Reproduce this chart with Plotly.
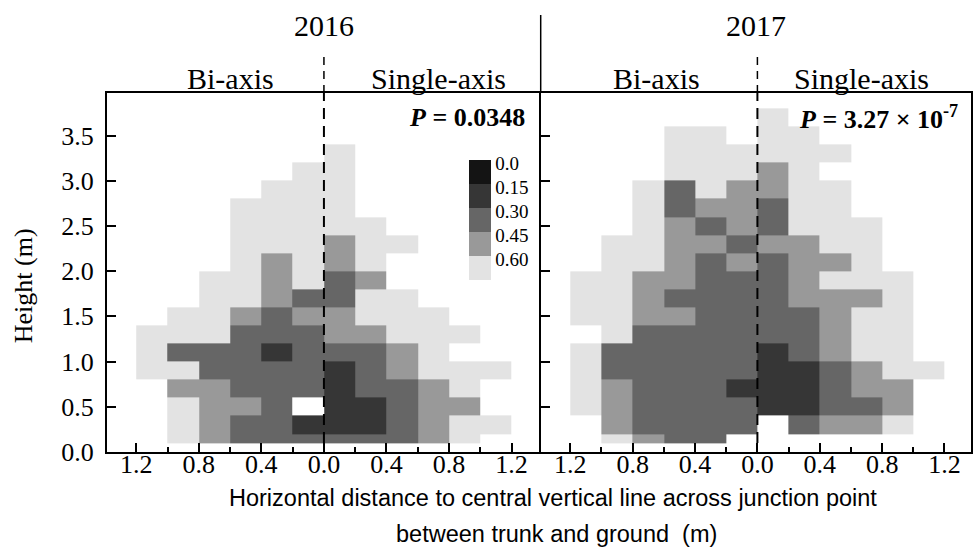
import math
import plotly.graph_objects as go

# ---------------- data ----------------
years = ["2016", "2017"]
side_labels = ["Bi-axis", "Single-axis"]
p_texts = ["<b><i>P</i> = 0.0348</b>", "<b><i>P</i> = 3.27 × 10<sup>-7</sup></b>"]

# bin edges (m)
x_edges = [-1.2, -1.0, -0.8, -0.6, -0.4, -0.2, 0.0, 0.2, 0.4, 0.6, 0.8, 1.0, 1.2]
y_edges = [0.1, 0.2, 0.4, 0.6, 0.8, 1.0, 1.2, 1.4, 1.6, 1.8, 2.0,
           2.2, 2.4, 2.6, 2.8, 3.0, 3.2, 3.4, 3.6, 3.8]

# class levels shown in the key
levels = [0.0, 0.15, 0.30, 0.45, 0.60]
level_labels = ["0.0", "0.15", "0.30", "0.45", "0.60"]
level_colors = ["#141414", "#363636", "#666666", "#999999", "#e3e3e3"]
codes = {"B": 0.0, "V": 0.15, "D": 0.30, "M": 0.45, "L": 0.60}

# grids, rows listed from top (3.6-3.8 m) down to bottom (0.1-0.2 m)
grid_2016 = [
    "............",
    "............",
    "......L.....",
    ".....LL.....",
    "....LLL.....",
    "...LLLL.....",
    "...LLLLL....",
    "...LLLMLL...",
    "...LMLML....",
    "..LLMLDM....",
    "..LLMDDLL...",
    ".LLMDMMLLL..",
    "LLLDDDMMLLL.",
    "LDDDVDDDML..",
    "LLDDDDVDMLLL",
    ".MMDDDVDDML.",
    ".LMMD.VVDMM.",
    ".LMDDVVVDMLL",
    ".LMDDDDDDML.",
]
grid_2017 = [
    "......L.....",
    "...LL.LL....",
    "...LLLLLL...",
    "...LLLML....",
    "..LDLMMLL...",
    "..LDMMDLL...",
    "..LMDMDLLL..",
    ".LLMMDMMLL..",
    ".LLMDMDMML..",
    "LLMMDDDMLLL.",
    "LLMDDDDMMML.",
    "LLMMDDDDMLL.",
    ".LDDDDDDMLL.",
    "LDDDDDVDMLL.",
    "LDDDDDVVDMLL",
    "LMDDDVVVDMM.",
    "LMDDDDVVDDM.",
    ".MDDDD.DMML.",
    ".LMDD.......",
]
grids = [grid_2016, grid_2017]

x_tick_vals = [-1.2, -0.8, -0.4, 0.0, 0.4, 0.8, 1.2]
x_tick_text = ["1.2", "0.8", "0.4", "0.0", "0.4", "0.8", "1.2"]
y_tick_vals = [0.0, 0.5, 1.0, 1.5, 2.0, 2.5, 3.0, 3.5]
y_tick_text = ["0.0", "0.5", "1.0", "1.5", "2.0", "2.5", "3.0", "3.5"]

x_title_1 = "Horizontal distance to central vertical line across junction point"
x_title_2 = "between trunk and ground  (m)"
y_title = "Height (m)"

# ---------------- figure ----------------
W, H = 976, 549
ML, MR, MT, MB = 107, 3, 93, 97
PW, PH = W - ML - MR, H - MT - MB
split = (541.7 - ML) / PW


def px_x(p):
    return (p - ML) / PW


def px_y(p):
    return (H - MB - p) / PH


nlev = len(levels)


def to_class(v):
    # class index: 0 = lightest (0.60) ... 4 = darkest (0.0)
    return round((levels[-1] - v) / 0.15)


colorscale = []
for k in range(nlev):
    col = level_colors[nlev - 1 - k]
    colorscale.append([k / nlev, col])
    colorscale.append([(k + 1) / nlev, col])

fig = go.Figure()
for i, g in enumerate(grids):
    z = []
    for row in reversed(g):
        z.append([to_class(codes[c]) if c in codes else math.nan for c in row])
    sfx = "" if i == 0 else str(i + 1)
    fig.add_trace(go.Heatmap(
        x=x_edges, y=y_edges, z=z, coloraxis="coloraxis",
        xaxis="x" + sfx, yaxis="y" + sfx, hoverinfo="skip",
        xgap=0, ygap=0,
    ))

serif = "Liberation Serif"
sans = "Liberation Sans"

axis_common = dict(showline=True, linecolor="black", linewidth=2,
                   showgrid=False, zeroline=False, ticks="inside",
                   tickcolor="black", tickwidth=2)

xminor = dict(dtick=0.2, tick0=0, ticks="inside", ticklen=5,
              tickwidth=2, tickcolor="black", showgrid=False)

fig.update_layout(
    width=W, height=H, margin=dict(l=ML, r=MR, t=MT, b=MB, pad=0),
    paper_bgcolor="white", plot_bgcolor="white", showlegend=False,
    xaxis=dict(domain=[0, split], range=[-1.387, 1.386], anchor="y",
               tickvals=x_tick_vals, ticktext=x_tick_text, ticklen=9,
               ticklabelstandoff=-12, minor=xminor, mirror=True,
               tickfont=dict(family=serif, size=26, color="black"),
               **axis_common),
    xaxis2=dict(domain=[split, 1], range=[-1.39, 1.37], anchor="y2",
                tickvals=x_tick_vals, ticktext=x_tick_text, ticklen=9,
                ticklabelstandoff=-12, minor=xminor, mirror=True,
                tickfont=dict(family=serif, size=26, color="black"),
                **axis_common),
    yaxis=dict(domain=[0, 1], range=[0, 3.97], anchor="x",
               tickvals=y_tick_vals, ticktext=y_tick_text, ticklen=9,
               ticklabelstandoff=6, mirror=False,
               tickfont=dict(family=serif, size=26, color="black"),
               **axis_common),
    yaxis2=dict(domain=[0, 1], range=[0, 3.97], anchor="x2",
                tickvals=y_tick_vals, ticklen=9, showticklabels=False,
                mirror=True, **axis_common),
    coloraxis=dict(
        colorscale=colorscale, cmin=-0.5, cmax=nlev - 0.5,
        colorbar=dict(
            x=px_x(470), xanchor="left", y=px_y(220), yanchor="middle",
            len=120 / PH, lenmode="fraction", thickness=22,
            thicknessmode="pixels", xpad=0, ypad=0, outlinewidth=0,
            ticks="", tickvals=[to_class(v) + 0.38 for v in levels],
            ticktext=level_labels,
            tickfont=dict(family=serif, size=19, color="black"),
        ),
    ),
)

shapes = []
# separator between the two years
shapes.append(dict(type="line", xref="paper", yref="paper",
                   x0=split, x1=split, y0=1, y1=px_y(15),
                   line=dict(color="black", width=1.5)))
for i in range(2):
    sfx = "" if i == 0 else str(i + 1)
    # dashed line at x = 0 inside the plot
    shapes.append(dict(type="line", xref="x" + sfx, yref="y" + sfx,
                       x0=0, x1=0, y0=y_edges[0], y1=3.97,
                       line=dict(color="black", width=2, dash="11px,7px")))
    # dashed line in the header
    shapes.append(dict(type="line", xref="x" + sfx, yref="paper",
                       x0=0, x1=0, y0=1, y1=px_y(52),
                       line=dict(color="black", width=1.5, dash="8px,6px")))
fig.update_layout(shapes=shapes)

year_x = [0.0, -0.012]
side_x = [[-0.60, 0.73], [-0.65, 0.67]]
ann = []
for i in range(2):
    sfx = "" if i == 0 else str(i + 1)
    ann.append(dict(text=years[i], xref="x" + sfx, yref="paper",
                    x=year_x[i], y=px_y(26), showarrow=False,
                    xanchor="center", yanchor="middle",
                    font=dict(family=serif, size=30, color="black")))
    for j in range(2):
        ann.append(dict(text=side_labels[j], xref="x" + sfx, yref="paper",
                        x=side_x[i][j], y=px_y(79), showarrow=False,
                        xanchor="center", yanchor="middle",
                        font=dict(family=serif, size=30, color="black")))
    ann.append(dict(text=p_texts[i], xref="x" + sfx, yref="paper",
                    x=1.30, y=px_y(117), showarrow=False,
                    xanchor="right", yanchor="middle",
                    font=dict(family=serif, size=26, color="black")))

ann.append(dict(text=x_title_1, xref="paper", yref="paper",
                x=px_x(554), y=px_y(498), showarrow=False,
                xanchor="center", yanchor="middle",
                font=dict(family=sans, size=23.5, color="black")))
ann.append(dict(text=x_title_2, xref="paper", yref="paper",
                x=px_x(558), y=px_y(534), showarrow=False,
                xanchor="center", yanchor="middle",
                font=dict(family=sans, size=23.5, color="black")))
ann.append(dict(text=y_title, xref="paper", yref="paper",
                x=px_x(23), y=px_y(286), showarrow=False, textangle=-90,
                xanchor="center", yanchor="middle",
                font=dict(family=serif, size=26, color="black")))
fig.update_layout(annotations=ann)

fig.write_html("out.html")
